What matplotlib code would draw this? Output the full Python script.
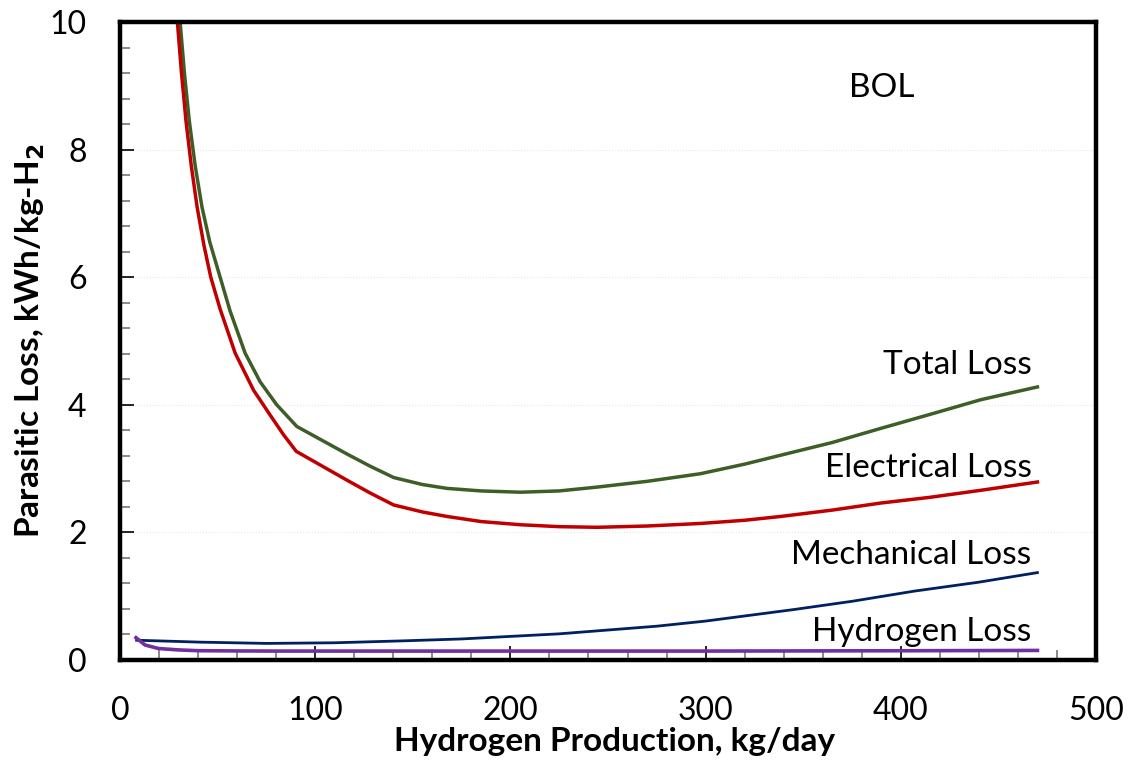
import matplotlib.pyplot as plt
from matplotlib.ticker import MultipleLocator

plt.rcParams['font.family'] = ['Lato', 'DejaVu Sans']

# production rate, kg/day and losses, kWh/kg-H2
total_x = [30.8, 33.0, 35.5, 38.5, 42.0, 46.0, 51.3, 56.4, 64.1, 71.8, 80.3,
           90.6, 116.2, 128, 140.2, 155, 167.5, 185, 205.1, 225, 244.4, 270,
           297.4, 320, 338.5, 365, 389.7, 415, 441.0, 470.0]
total_y = [10.0, 9.2, 8.45, 7.75, 7.1, 6.55, 6.0, 5.47, 4.81, 4.36, 4.0,
           3.66, 3.23, 3.04, 2.86, 2.75, 2.69, 2.65, 2.63, 2.65, 2.71, 2.80,
           2.92, 3.07, 3.21, 3.41, 3.63, 3.85, 4.08, 4.28]

elec_x = [29.4, 31.5, 33.8, 36.5, 39.5, 43.0, 46.5, 51.3, 59.0, 68.4, 76.9,
          83.8, 90.3, 116.2, 128, 140.2, 155, 167.5, 185, 205.1, 225, 244.4,
          270, 297.4, 320, 338.5, 365, 389.7, 415, 441.0, 470.0]
elec_y = [10.0, 9.2, 8.45, 7.75, 7.1, 6.5, 6.0, 5.5, 4.81, 4.23, 3.84,
          3.53, 3.27, 2.82, 2.62, 2.43, 2.32, 2.25, 2.17, 2.12, 2.09, 2.08,
          2.10, 2.14, 2.19, 2.25, 2.35, 2.46, 2.55, 2.66, 2.79]

mech_x = [8.5, 41, 75, 110, 145, 175, 200, 225, 250, 275, 300, 320, 345,
          375, 407, 440, 470]
mech_y = [0.31, 0.28, 0.26, 0.27, 0.30, 0.33, 0.37, 0.41, 0.47, 0.53, 0.61,
          0.69, 0.79, 0.92, 1.08, 1.22, 1.37]

h2_x = [8.2, 12.8, 19.7, 30, 40, 60, 80, 200, 300, 400, 470]
h2_y = [0.35, 0.235, 0.18, 0.158, 0.146, 0.142, 0.14, 0.14, 0.14, 0.145, 0.15]

labels = ['Total Loss', 'Electrical Loss', 'Mechanical Loss', 'Hydrogen Loss']
label_y = [4.62, 3.01, 1.65, 0.44]

fig = plt.figure(figsize=(11.28, 7.61), dpi=100)
ax = fig.add_axes([120 / 1128, 101 / 761, 976 / 1128, 638 / 761])

ax.plot(total_x, total_y, color='#3d5f27', lw=2.5, solid_joinstyle='round')
ax.plot(elec_x, elec_y, color='#c00000', lw=2.5, solid_joinstyle='round')
ax.plot(mech_x, mech_y, color='#002060', lw=2.0, solid_joinstyle='round')
ax.plot(h2_x, h2_y, color='#7030a0', lw=2.6, solid_joinstyle='round')

for txt, yy in zip(labels, label_y):
    ax.text(467, yy, txt, ha='right', va='center', fontsize=24)
ax.text(390, 8.97, 'BOL', ha='center', va='center', fontsize=24)

ax.set_xlim(0, 500)
ax.set_ylim(0, 10)
ax.xaxis.set_major_locator(MultipleLocator(100))
ax.xaxis.set_minor_locator(MultipleLocator(20))
ax.yaxis.set_major_locator(MultipleLocator(2))
ax.yaxis.set_minor_locator(MultipleLocator(0.4))
ax.tick_params(which='major', direction='in', length=10, width=1.2,
               color='black', labelsize=23)
ax.tick_params(which='minor', direction='in', length=7, width=1.2,
               color='#777777')
ax.tick_params(axis='y', which='major', pad=24)
ax.tick_params(axis='x', which='major', pad=26)
ax.grid(axis='y', which='major', color='#e6e6e6', lw=0.8, ls=':')

for s in ax.spines.values():
    s.set_linewidth(3.2)

ax.set_xlabel('Hydrogen Production, kg/day', fontsize=24, fontweight='bold')
ax.set_ylabel('Parasitic Loss, kWh/kg-H$_\\mathbf{2}$', fontsize=24,
              fontweight='bold')
ax.xaxis.set_label_coords(0.507, -0.128)
ax.yaxis.set_label_coords(-0.092, 0.50)
ax.xaxis.label.set_va('center')
ax.yaxis.label.set_va('center')

fig.savefig('out.png', dpi=100)
